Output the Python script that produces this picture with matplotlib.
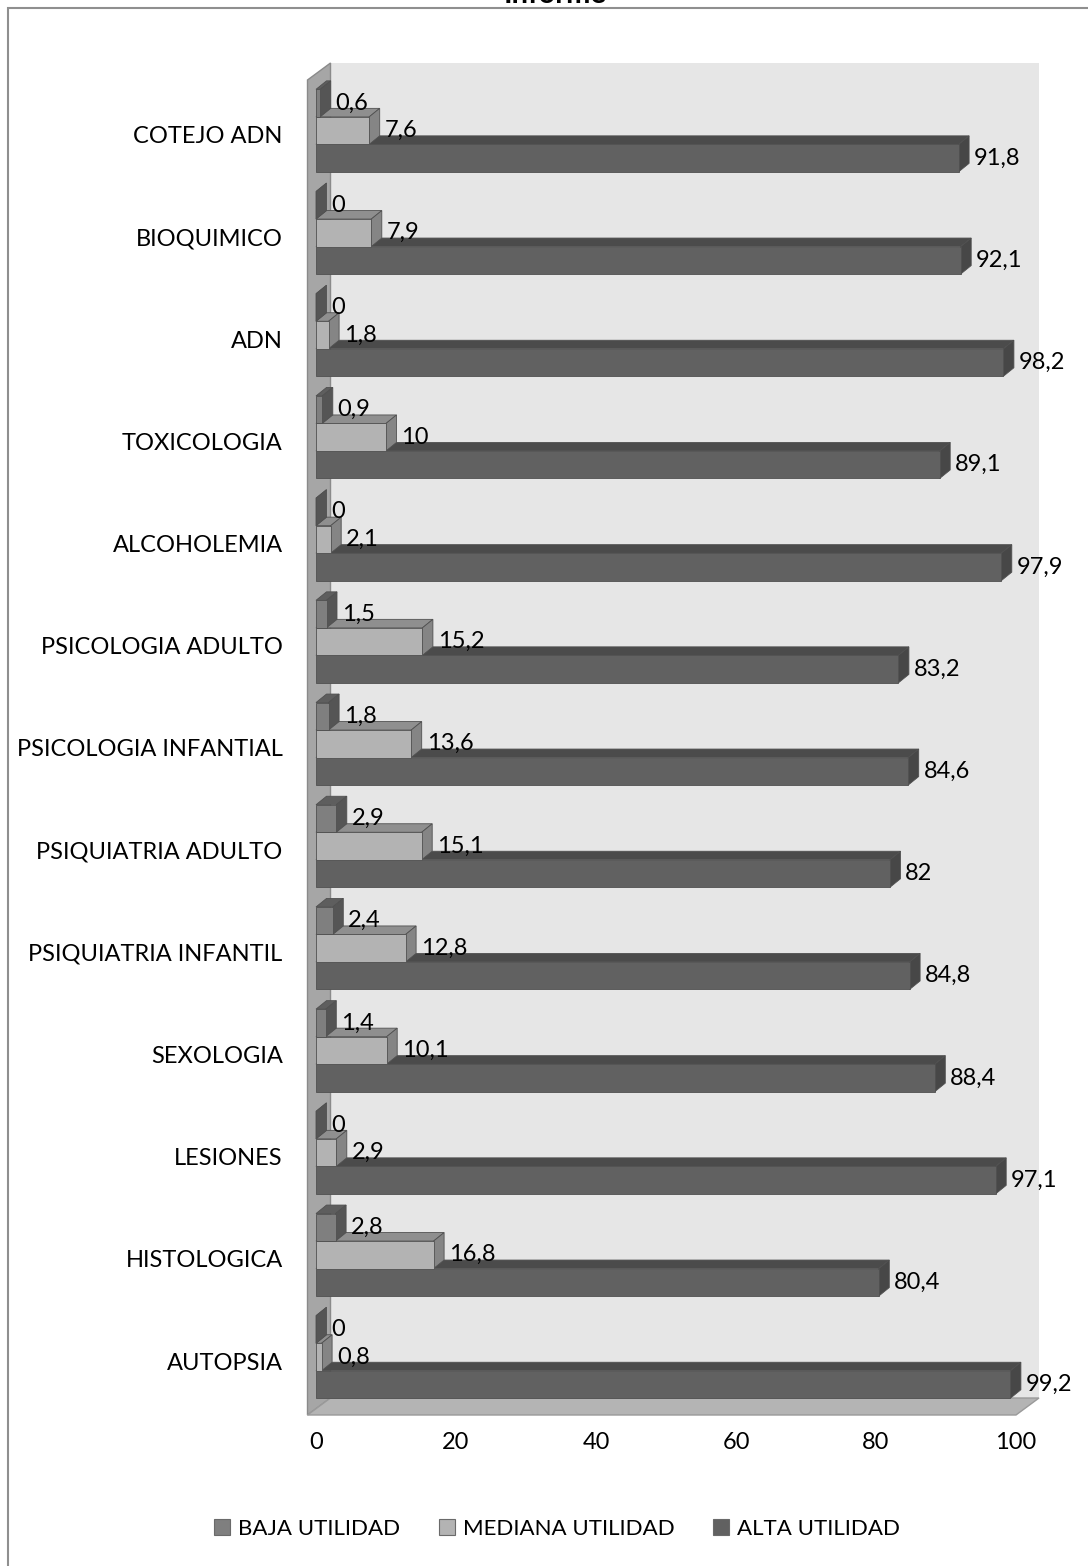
import matplotlib
matplotlib.use('Agg')
import matplotlib.pyplot as plt
from matplotlib.patches import Polygon, Rectangle, Patch

categorias = ['COTEJO ADN', 'BIOQUIMICO', 'ADN', 'TOXICOLOGIA', 'ALCOHOLEMIA',
              'PSICOLOGIA ADULTO', 'PSICOLOGIA INFANTIAL', 'PSIQUIATRIA ADULTO',
              'PSIQUIATRIA INFANTIL', 'SEXOLOGIA', 'LESIONES', 'HISTOLOGICA', 'AUTOPSIA']
baja = [0.6, 0, 0, 0.9, 0, 1.5, 1.8, 2.9, 2.4, 1.4, 0, 2.8, 0]
mediana = [7.6, 7.9, 1.8, 10, 2.1, 15.2, 13.6, 15.1, 12.8, 10.1, 2.9, 16.8, 0.8]
alta = [91.8, 92.1, 98.2, 89.1, 97.9, 83.2, 84.6, 82, 84.8, 88.4, 97.1, 80.4, 99.2]
series = ['BAJA UTILIDAD', 'MEDIANA UTILIDAD', 'ALTA UTILIDAD']
ticks_x = [0, 20, 40, 60, 80, 100]

plt.rcParams['font.family'] = ['Lato', 'DejaVu Sans']

W, H = 1088, 1566
fig = plt.figure(figsize=(W / 100, H / 100), dpi=100)

# plot area: value 0 at x=316px, 100 at x=1016px
ax = fig.add_axes([316 / W, (H - 1415) / H, 700 / W, 1335 / H])
px_x = 7.0
px_y = 102.2
y_bot = -(1415 - 1357) / px_y
y_top = y_bot + 1335 / px_y
ax.set_xlim(0, 100)
ax.set_ylim(y_bot, y_top)

# depth of bars and walls (data units)
dx, dy = 10.5 / px_x, 8.5 / px_y
dxw, dyw = 23 / px_x, 17 / px_y
t = 8.5 / px_x

# walls and floor
back = Polygon([(-t + dxw, y_bot + dyw), (100 + dxw, y_bot + dyw),
                (100 + dxw, y_top + dyw), (-t + dxw, y_top + dyw)],
               closed=True, fc='#e6e6e6', ec='none', zorder=0, clip_on=False)
left = Polygon([(-t, y_bot), (-t, y_top), (-t + dxw, y_top + dyw), (-t + dxw, y_bot + dyw)],
               closed=True, fc='#a6a6a6', ec='#8a8a8a', lw=1, zorder=1, clip_on=False)
floor = Polygon([(-t, y_bot), (100, y_bot), (100 + dxw, y_bot + dyw), (-t + dxw, y_bot + dyw)],
                closed=True, fc='#b4b4b4', ec='#9a9a9a', lw=1, zorder=1, clip_on=False)
for p in (back, left, floor):
    ax.add_patch(p)

colores = {
    'BAJA UTILIDAD': ('#7f7f7f', '#5e5e5e', '#555555'),
    'MEDIANA UTILIDAD': ('#b3b3b3', '#8f8f8f', '#858585'),
    'ALTA UTILIDAD': ('#616161', '#4b4b4b', '#474747'),
}
h = 27.5 / px_y
offs = {'BAJA UTILIDAD': h, 'MEDIANA UTILIDAD': 0.0, 'ALTA UTILIDAD': -h}
valores = {'BAJA UTILIDAD': baja, 'MEDIANA UTILIDAD': mediana, 'ALTA UTILIDAD': alta}


def fmt(v):
    return f'{v:g}'.replace('.', ',')


n = len(categorias)
z = 2
# draw from bottom to top so upper fronts cover lower top faces
for i in range(n - 1, -1, -1):
    yc = n - 1 - i
    for s in ['ALTA UTILIDAD', 'MEDIANA UTILIDAD', 'BAJA UTILIDAD']:
        v = valores[s][i]
        y = yc + offs[s]
        front, top, side = colores[s]
        y0, y1 = y - h / 2, y + h / 2
        ax.add_patch(Polygon([(0, y1), (v, y1), (v + dx, y1 + dy), (dx, y1 + dy)],
                             closed=True, fc=top, ec='#505050', lw=0.6, zorder=z, clip_on=False))
        ax.add_patch(Polygon([(v, y0), (v, y1), (v + dx, y1 + dy), (v + dx, y0 + dy)],
                             closed=True, fc=side, ec='#505050', lw=0.6, zorder=z, clip_on=False))
        ax.barh(y, v, height=h, color=front, edgecolor='#505050', linewidth=0.6, zorder=z)
        ax.annotate(fmt(v), (v + dx, y), xytext=(3.5, 0), textcoords='offset points',
                    ha='left', va='center', fontsize=17, color='black', zorder=50,
                    annotation_clip=False)
        z += 1

ax.set_yticks([n - 1 - i - 0.04 for i in range(n)])
ax.set_yticklabels(categorias, fontsize=17)
ax.set_xticks(ticks_x)
ax.set_xticklabels([str(v) for v in ticks_x], fontsize=17)
ax.tick_params(axis='both', length=0)
ax.tick_params(axis='y', pad=24)
ax.tick_params(axis='x', pad=12)
for sp in ax.spines.values():
    sp.set_visible(False)
ax.patch.set_visible(False)

# title (cut by the top of the image, as in the source)
fig.text(555 / W, 1 - 3 / H, 'Informe', ha='center', va='baseline',
         fontsize=21, fontweight='bold')

# chart border
fig.add_artist(Rectangle((7.5 / W, -0.1), 2, (H - 8) / H + 0.1, transform=fig.transFigure,
                         fill=False, ec='#8f8f8f', lw=1.5))

handles = [Patch(fc=colores[s][0], ec='#6a6a6a', lw=0.8, label=s) for s in series]
fig.legend(handles=handles, loc='center', bbox_to_anchor=(557 / W, 1 - 1529 / H),
           ncol=3, frameon=False, fontsize=16, handlelength=0.72, handleheight=0.72,
           handletextpad=0.35, columnspacing=1.75)

fig.savefig('out.png', dpi=100)
